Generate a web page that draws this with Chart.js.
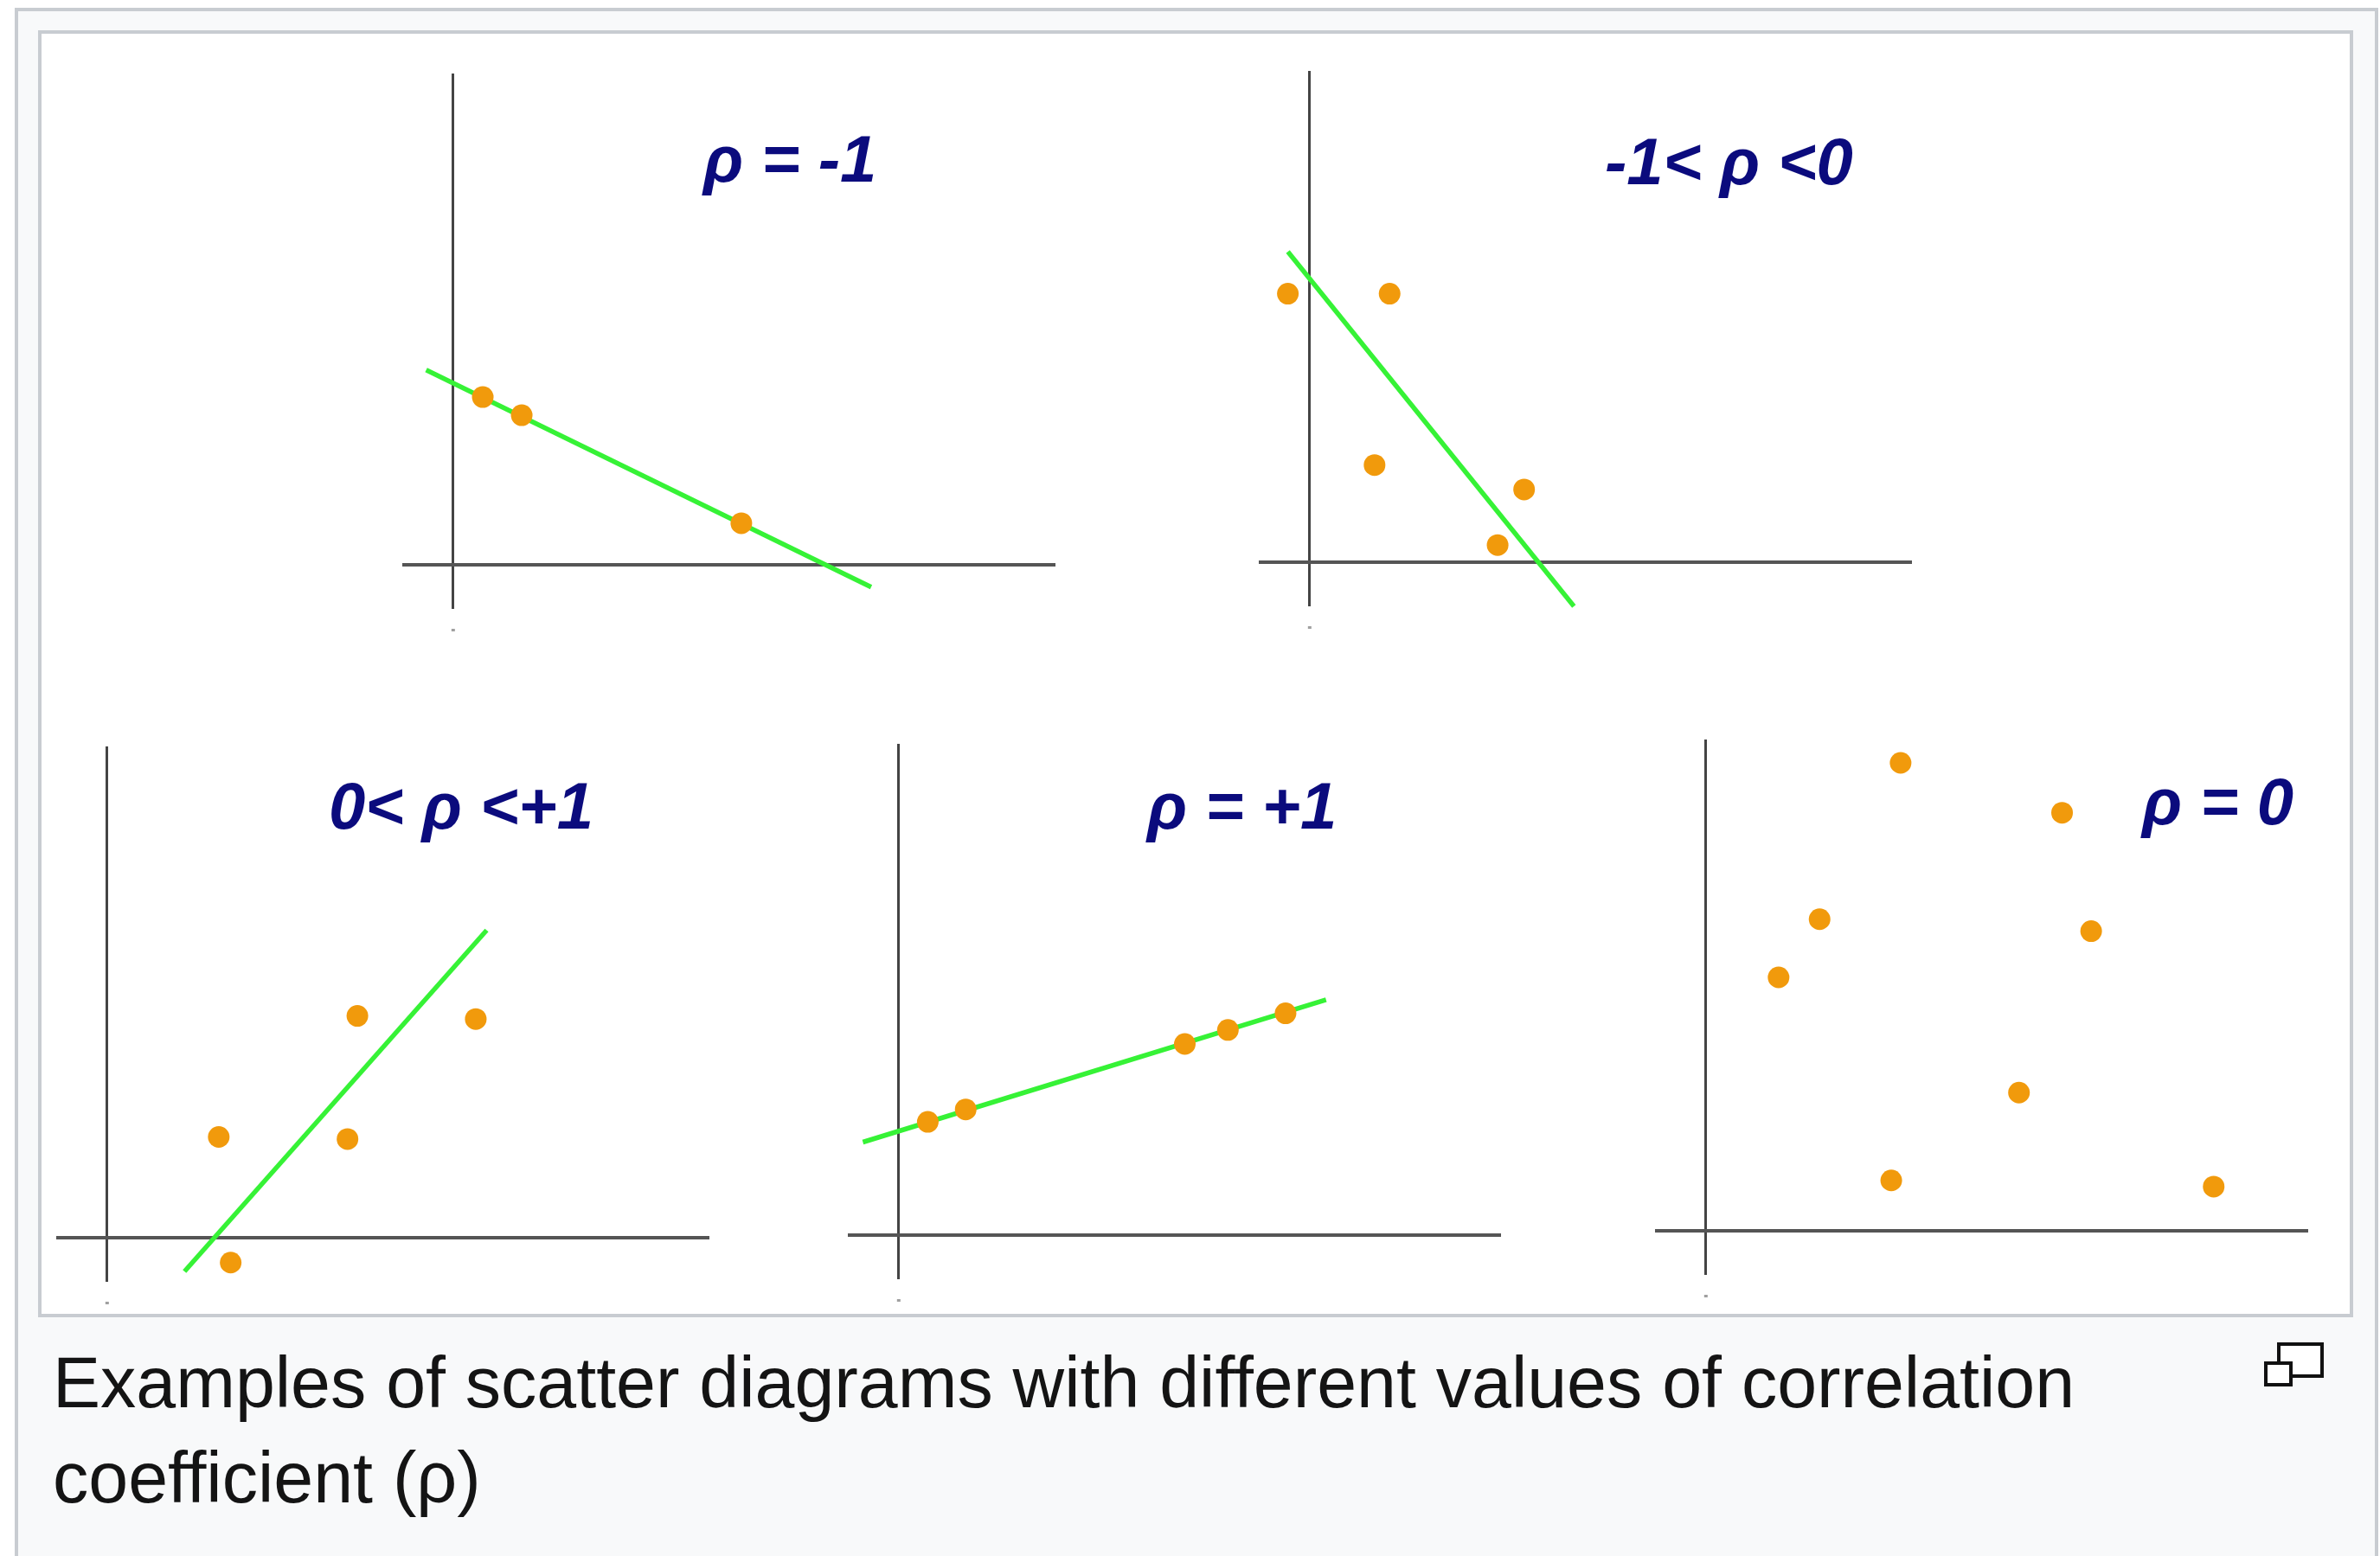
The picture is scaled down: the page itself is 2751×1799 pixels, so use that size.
<!DOCTYPE html>
<html>
<head>
<meta charset="utf-8">
<script src="https://cdn.jsdelivr.net/npm/chart.js@4/dist/chart.umd.min.js"></script>
<style>
  html, body { margin: 0; padding: 0; background: #ffffff; }
  body { width: 2751px; height: 1799px; position: relative; overflow: hidden; }
  .outer { position: absolute; left: 17px; top: 9px; width: 2732px; height: 1850px;
           box-sizing: border-box; border: 4px solid #c8ccd1; background: #f8f9fa; }
  .inner { position: absolute; left: 44px; top: 35px; width: 2676px; height: 1488px;
           box-sizing: border-box; border: 4px solid #c8ccd1; background: #ffffff; }
  canvas.panel { position: absolute; }
  .ttl { position: absolute; font-family: "Liberation Sans", Arial, sans-serif; font-weight: bold;
         font-style: italic; font-size: 76px; line-height: 76px; color: #0b0b7d; white-space: pre; }
  .caption { position: absolute; left: 61px; top: 1543px; font-family: "Liberation Sans", Arial, sans-serif;
             font-size: 82.5px; line-height: 110px; color: #141414; white-space: nowrap; }
  .ic { position: absolute; box-sizing: border-box; border: 4px solid #111; background: #fff; }
</style>
</head>
<body>
<div class="outer"></div>
<div class="inner"></div>

<div class="caption">Examples of scatter diagrams with different values of correlation<br>coefficient (ρ)</div>
<div class="ic" style="left:2632px;top:1552px;width:54px;height:41px;"></div>
<div class="ic" style="left:2617px;top:1574px;width:33px;height:29px;"></div>

<script>
// ---- Data (axis units) ----
const panelTitles = ['ρ = -1', '-1< ρ <0', '0< ρ <+1', 'ρ = +1', 'ρ = 0'];

const xRange = [-0.98, 11.6];
const yRange = [-0.85, 9.46];

const p1X = [0.57, 1.32, 5.55];
const p1Y = [3.23, 2.88, 0.80];
const p1LineX = [-0.52, 8.05];
const p1LineY = [3.75, -0.43];

const p2X = [-0.42, 1.54, 1.25, 4.13, 3.62];
const p2Y = [5.17, 5.17, 1.87, 1.40, 0.33];
const p2LineX = [-0.42, 5.09];
const p2LineY = [5.98, -0.85];

const p3X = [2.15, 4.63, 4.82, 7.10, 2.38];
const p3Y = [1.94, 1.90, 4.27, 4.21, -0.48];
const p3LineX = [1.49, 7.31];
const p3LineY = [-0.65, 5.92];

const p4X = [0.56, 1.29, 5.51, 6.34, 7.45];
const p4Y = [2.18, 2.42, 3.68, 3.95, 4.27];
const p4LineX = [-0.69, 8.23];
const p4LineY = [1.79, 4.53];

const p5X = [3.75, 6.86, 2.19, 1.40, 7.42, 6.03, 3.57, 9.78];
const p5Y = [9.01, 8.05, 6.00, 4.88, 5.77, 2.66, 0.97, 0.85];

const panels = [
  { x: p1X, y: p1Y, lx: p1LineX, ly: p1LineY },
  { x: p2X, y: p2Y, lx: p2LineX, ly: p2LineY },
  { x: p3X, y: p3Y, lx: p3LineX, ly: p3LineY },
  { x: p4X, y: p4Y, lx: p4LineX, ly: p4LineY },
  { x: p5X, y: p5Y, lx: null, ly: null }
];

// ---- Layout (style) ----
const areaPos = [ [465, 85], [1455, 82], [65, 863], [980, 860], [1913, 855] ];
const areaW = 755, areaH = 619;
const padL = 30, padR = 30, padT = 30, padB = 45;
const titlePos = [ [813, 146], [1855, 149], [380, 894], [1326, 894], [2476, 889] ];

const orange = '#f19a0c';
const green = '#36f236';

const axisMark = {
  id: 'axisMark',
  afterDraw(chart) {
    const ctx = chart.ctx;
    const x0 = chart.scales.x.getPixelForValue(0);
    ctx.save();
    ctx.fillStyle = '#a0a0a0';
    ctx.fillRect(x0 - 2, chart.chartArea.bottom + 23, 4, 3);
    ctx.restore();
  }
};

panels.forEach((p, i) => {
  const cv = document.createElement('canvas');
  cv.className = 'panel';
  const W = areaW + padL + padR, H = areaH + padT + padB;
  cv.width = W; cv.height = H;
  cv.style.width = W + 'px'; cv.style.height = H + 'px';
  cv.style.left = (areaPos[i][0] - padL) + 'px';
  cv.style.top = (areaPos[i][1] - padT) + 'px';
  document.body.appendChild(cv);

  const datasets = [{
    type: 'scatter',
    data: p.x.map((v, k) => ({ x: v, y: p.y[k] })),
    backgroundColor: orange,
    borderWidth: 0,
    pointRadius: 12.5,
    pointHoverRadius: 12.5,
    clip: false,
    order: 0
  }];
  if (p.lx) {
    datasets.push({
      type: 'line',
      data: p.lx.map((v, k) => ({ x: v, y: p.ly[k] })),
      borderColor: green,
      borderWidth: 5.5,
      pointRadius: 0,
      fill: false,
      clip: false,
      order: 1
    });
  }

  new Chart(cv, {
    data: { datasets },
    plugins: [axisMark],
    options: {
      responsive: false,
      animation: false,
      devicePixelRatio: 1,
      layout: { padding: { left: padL, right: padR, top: padT, bottom: padB } },
      plugins: { legend: { display: false }, tooltip: { enabled: false }, title: { display: false } },
      scales: {
        x: {
          type: 'linear', min: xRange[0], max: xRange[1],
          afterBuildTicks: s => { s.ticks = [{ value: 0 }]; },
          afterFit: s => { s.height = 0; },
          ticks: { display: false },
          border: { display: false },
          grid: { drawTicks: false, color: '#444444', lineWidth: 3 }
        },
        y: {
          type: 'linear', min: yRange[0], max: yRange[1],
          afterBuildTicks: s => { s.ticks = [{ value: 0 }]; },
          afterFit: s => { s.width = 0; },
          ticks: { display: false },
          border: { display: false },
          grid: { drawTicks: false, color: '#555555', lineWidth: 4 }
        }
      }
    }
  });

  const t = document.createElement('div');
  t.className = 'ttl';
  t.textContent = panelTitles[i];
  t.style.left = titlePos[i][0] + 'px';
  t.style.top = titlePos[i][1] + 'px';
  document.body.appendChild(t);
});
</script>
</body>
</html>
